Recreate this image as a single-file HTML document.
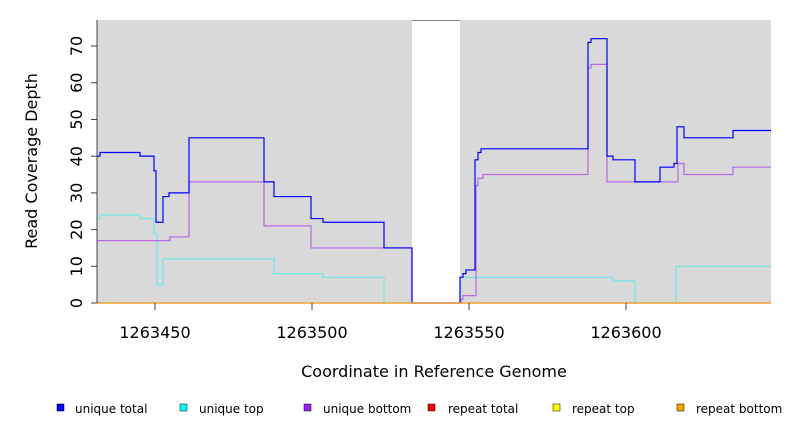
<!DOCTYPE html>
<html><head><meta charset="utf-8"><style>
html,body{margin:0;padding:0;background:#fff;}
svg{display:block;font-family:"DejaVu Sans","Liberation Sans",sans-serif;}
</style></head><body>
<svg id="s" width="792" height="432" viewBox="0 0 792 432" xmlns="http://www.w3.org/2000/svg">
<rect x="97" y="20" width="674" height="283" fill="#d9d9d9"/>
<rect x="412" y="20" width="48" height="283" fill="#fff"/>
<line x1="412" y1="20.5" x2="460" y2="20.5" stroke="#888" stroke-width="1"/>
<g id="lines" fill="none" stroke-width="1.2"></g>
<line x1="97" y1="303" x2="771" y2="303" stroke="#f5a030" stroke-width="1.5"/>
<line x1="97" y1="20" x2="97" y2="303" stroke="#444" stroke-width="1"/>
<g stroke="#444" stroke-width="1">
<line x1="91" y1="303" x2="97" y2="303"/><line x1="91" y1="266.3" x2="97" y2="266.3"/>
<line x1="91" y1="229.6" x2="97" y2="229.6"/><line x1="91" y1="192.9" x2="97" y2="192.9"/>
<line x1="91" y1="156.2" x2="97" y2="156.2"/><line x1="91" y1="119.5" x2="97" y2="119.5"/>
<line x1="91" y1="82.7" x2="97" y2="82.7"/><line x1="91" y1="46" x2="97" y2="46"/>
<line x1="155" y1="303" x2="155" y2="310"/><line x1="312" y1="303" x2="312" y2="310"/>
<line x1="469" y1="303" x2="469" y2="310"/><line x1="626" y1="303" x2="626" y2="310"/>
</g>
<g font-size="16" fill="#000" text-anchor="middle">
<text transform="translate(76,303) rotate(-90)" dy="6">0</text>
<text transform="translate(76,266.3) rotate(-90)" dy="6">10</text>
<text transform="translate(76,229.6) rotate(-90)" dy="6">20</text>
<text transform="translate(76,192.9) rotate(-90)" dy="6">30</text>
<text transform="translate(76,156.2) rotate(-90)" dy="6">40</text>
<text transform="translate(76,119.5) rotate(-90)" dy="6">50</text>
<text transform="translate(76,82.7) rotate(-90)" dy="6">60</text>
<text transform="translate(76,46) rotate(-90)" dy="6">70</text>
<text x="155" y="338">1263450</text><text x="312" y="338">1263500</text>
<text x="469" y="338">1263550</text><text x="626" y="338">1263600</text>
<text x="434" y="377">Coordinate in Reference Genome</text>
<text transform="translate(37,161) rotate(-90)">Read Coverage Depth</text>
</g>
<g font-size="12" fill="#000">
<rect x="57" y="404" width="7" height="7" fill="#0000ff" stroke="#000" stroke-width="0.5"/><text x="75" y="413">unique total</text>
<rect x="180" y="404" width="7" height="7" fill="#00ffff" stroke="#000" stroke-width="0.5"/><text x="199" y="413">unique top</text>
<rect x="304" y="404" width="7" height="7" fill="#a020f0" stroke="#000" stroke-width="0.5"/><text x="323" y="413">unique bottom</text>
<rect x="428" y="404" width="7" height="7" fill="#ff0000" stroke="#000" stroke-width="0.5"/><text x="448" y="413">repeat total</text>
<rect x="553" y="404" width="7" height="7" fill="#ffff00" stroke="#000" stroke-width="0.5"/><text x="572" y="413">repeat top</text>
<rect x="677" y="404" width="7" height="7" fill="#ffa500" stroke="#000" stroke-width="0.5"/><text x="696" y="413">repeat bottom</text>
</g>
</svg>
<script>
function Y(v){return 303-v*3.671;}
function path(pts,end){var d="M97 "+Y(pts[0][1]);for(var i=0;i<pts.length;i++){var x=pts[i][0],v=pts[i][1];if(i>0)d+=" H"+x+" V"+Y(v);}d+=" H"+end;return d;}
var cyan=[[97,23],[100,24],[140,23],[154,19],[157,5],[163,12],[274,8],[323,7],[384,0],[460,7],[613,6],[635,0],[676,10]];
var purple=[[97,17],[170,18],[189,33],[264,21],[311,15],[412,0],[461,1],[463,2],[476,32],[478,34],[483,35],[588,64],[591,65],[607,33],[678,38],[684,35],[733,37]];
var blue=[[97,40],[100,41],[140,40],[154,36],[156,22],[163,29],[169,30],[189,45],[264,33],[274,29],[311,23],[323,22],[384,15],[412,0],[460,7],[463,8],[466,9],[475,39],[478,41],[481,42],[588,71],[591,72],[607,40],[613,39],[635,33],[660,37],[674,38],[677,48],[684,45],[733,47]];
var g=document.getElementById("lines");
[[cyan,"#6fe8e8"],[purple,"#b46ae8"],[blue,"#0000ff"]].forEach(function(a){var p=document.createElementNS("http://www.w3.org/2000/svg","path");p.setAttribute("d",path(a[0],771));p.setAttribute("stroke",a[1]);g.appendChild(p);});
</script>
</body></html>
